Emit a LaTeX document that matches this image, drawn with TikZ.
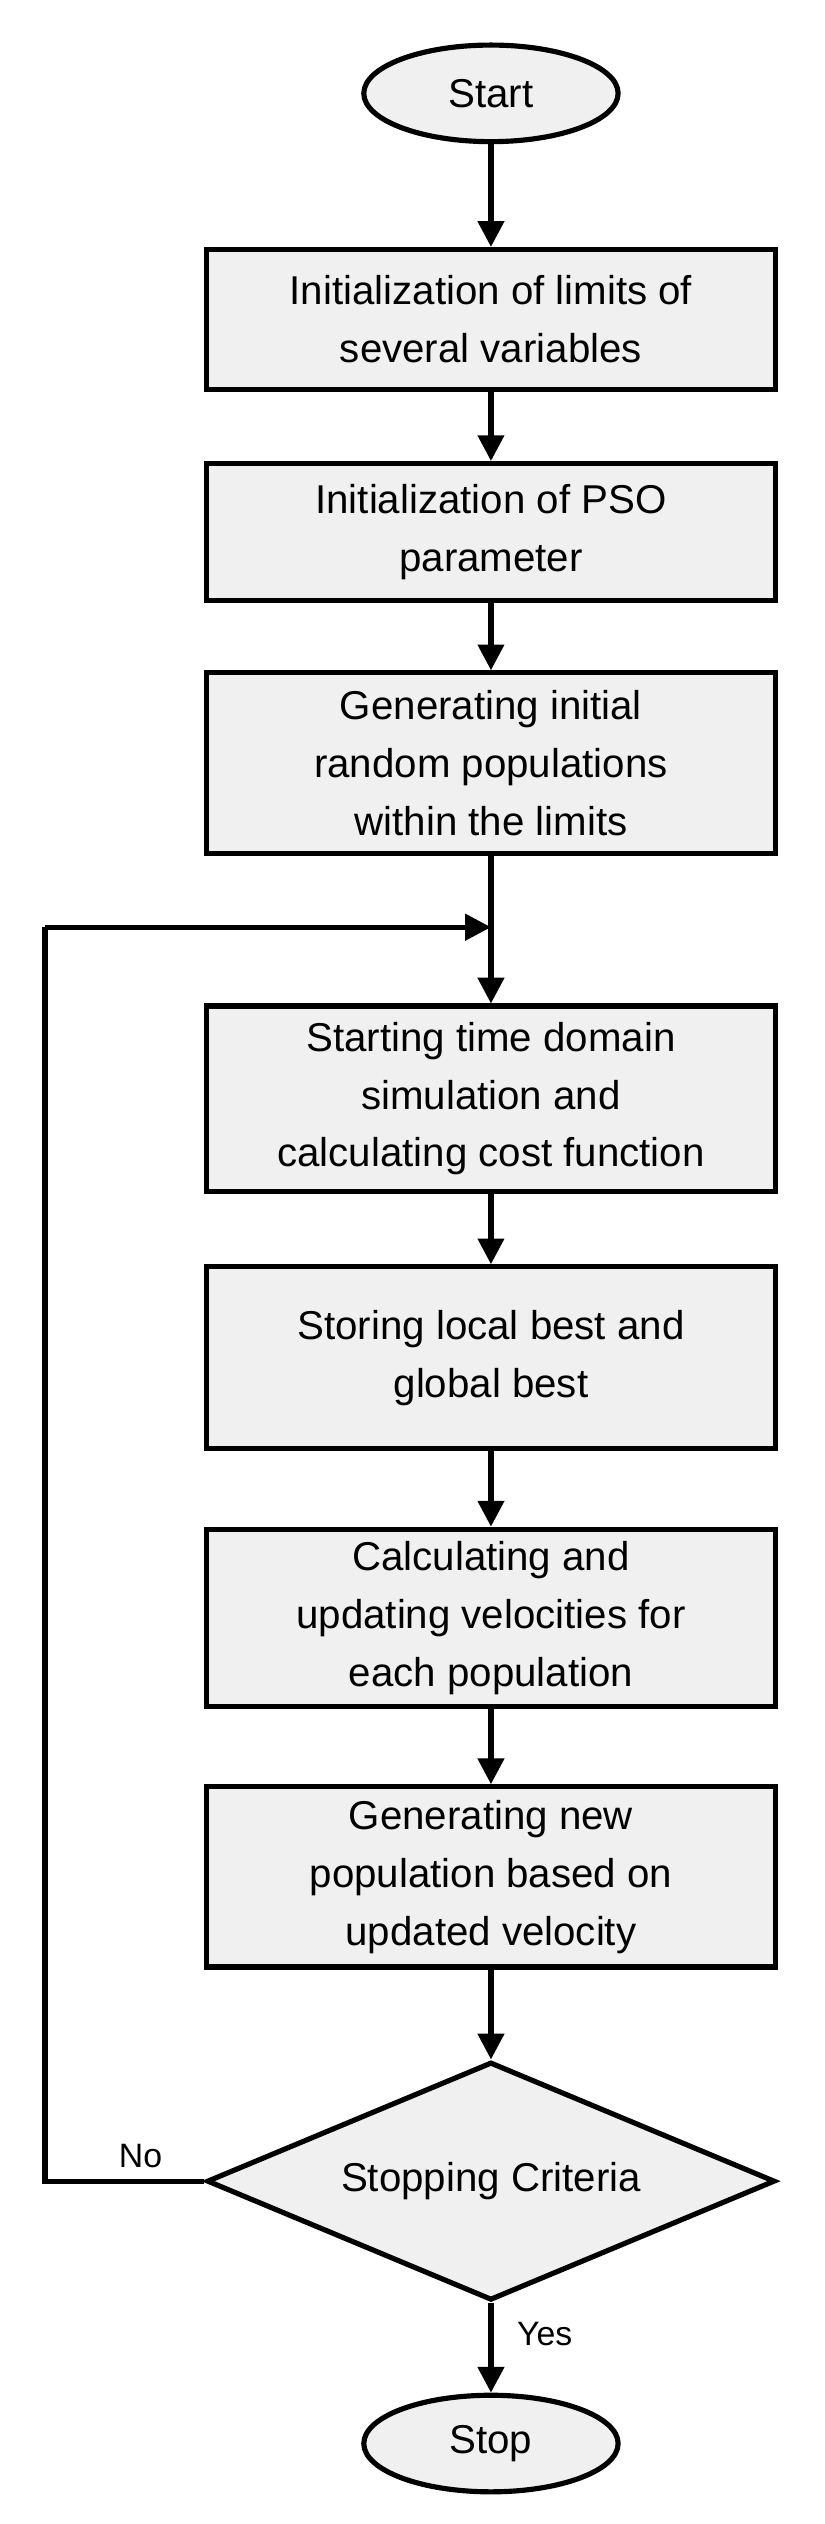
\documentclass[tikz,border=0pt]{standalone}
\usepackage{fontspec}
\setmainfont{Liberation Sans}
\usetikzlibrary{shapes.geometric,arrows.meta}
\begin{document}
\begin{tikzpicture}[x=0.5pt,y=-0.5pt,
  box/.style={draw,line width=1.6pt,fill=black!6,minimum width=176.5pt,align=center,font=\fontsize{12.5}{18}\selectfont},
  term/.style={draw,ellipse,line width=1.6pt,fill=black!6,minimum width=79pt,minimum height=30pt,font=\fontsize{12.5}{18}\selectfont},
  arr/.style={line width=1.6pt,-{Triangle[length=8pt,width=8pt]}},
  lbl/.style={font=\fontsize{10.5}{12}\selectfont}]
\useasboundingbox (0,0) rectangle (512,1568);
\node[term] (start) at (305,58) {Start};
\node[box,minimum height=43.5pt] (b1) at (305,198.5) {Initialization of limits of\\several variables};
\node[box,minimum height=42.5pt] (b2) at (305,330.5) {Initialization of PSO\\parameter};
\node[box,minimum height=56pt] (b3) at (305,474) {Generating initial\\random populations\\within the limits};
\node[box,minimum height=57.5pt] (b4) at (305,682.5) {Starting time domain\\simulation and\\calculating cost function};
\node[box,minimum height=56.5pt] (b5) at (305,843.5) {Storing local best and\\global best};
\node[box,minimum height=55pt] (b6) at (305,1005) {Calculating and\\updating velocities for\\each population};
\node[box,minimum height=56pt] (b7) at (305,1166) {Generating new\\population based on\\updated velocity};
\node[draw,diamond,aspect=2.39,line width=1.6pt,fill=black!6,inner sep=0pt,minimum width=176.5pt,minimum height=74pt,font=\fontsize{12.5}{18}\selectfont] (d) at (305,1355) {Stopping Criteria};
\node[term] (stop) at (305,1518) {Stop};
\coordinate (m) at (305,576);
\coordinate (lt) at (28,576);
\coordinate (lb) at (28,1355);
\draw[arr] (start) -- (b1);
\draw[arr] (b1) -- (b2);
\draw[arr] (b2) -- (b3);
\draw[arr] (b3) -- (b4);
\draw[arr] (b4) -- (b5);
\draw[arr] (b5) -- (b6);
\draw[arr] (b6) -- (b7);
\draw[arr] (b7) -- (d);
\draw[arr] (d) -- node[lbl,right=4pt,pos=0.35]{Yes} (stop);
\draw[line width=1.6pt] (d.west) -- node[lbl,above,pos=0.4]{No} (lb) -- (lt);
\draw[arr] (lt) -- (m);
\end{tikzpicture}
\end{document}
